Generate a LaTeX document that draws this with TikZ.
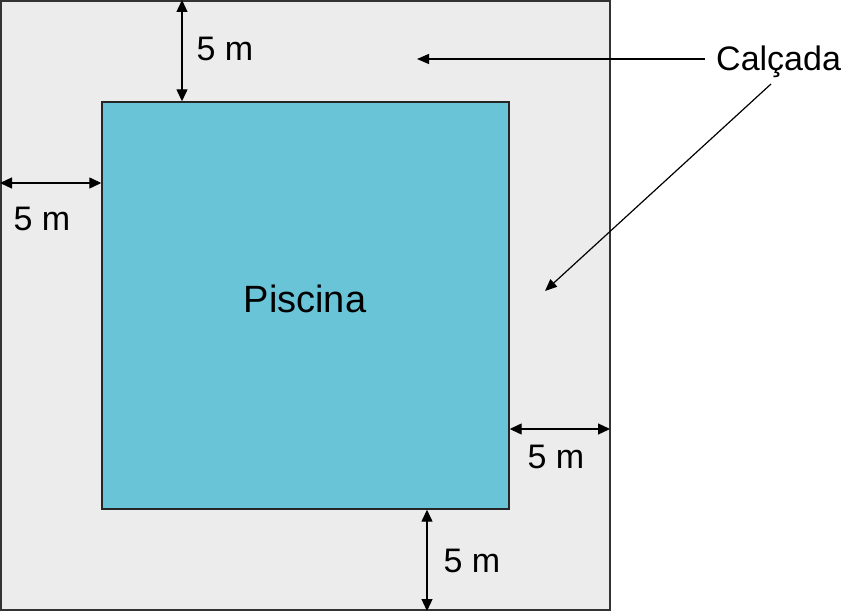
\documentclass[tikz,border=0pt]{standalone}
\usepackage{fontspec}
\setmainfont{Liberation Sans}
\usetikzlibrary{arrows.meta}
\definecolor{deckgray}{HTML}{ECECEC}
\definecolor{poolblue}{HTML}{6AC4D8}
\tikzstyle{deckbox} = [rectangle, draw=black!80, line width=1.4pt, fill=deckgray, minimum size=609pt, inner sep=0pt]
\tikzstyle{poolbox} = [rectangle, draw=black!85, line width=1.4pt, fill=poolblue, minimum size=407pt, inner sep=0pt]
\tikzstyle{lbl} = [font=\fontsize{34}{40}\selectfont, inner sep=0pt]
\tikzstyle{dim} = [line width=1.3pt, {Triangle[length=12pt,width=11pt]}-{Triangle[length=12pt,width=11pt]}]
\tikzstyle{arrow} = [line width=1.2pt, -{Triangle[length=12pt,width=10pt]}]

\begin{document}
\begin{tikzpicture}[x=1pt, y=-1pt]
      \useasboundingbox (0,0) rectangle (846,612);
      \node (deck) [deckbox] at (305.5,305.5) {};
      \node (pool) [poolbox] at (305.5,305.5) {};
      \node (piscina) [lbl, font=\fontsize{38}{44}\selectfont] at (305,299) {Piscina};
      \node (calcada) [lbl, anchor=west] at (716,62) {Calçada};
      \coordinate (top) at (182,0);
      \coordinate (left) at (0,183);
      \coordinate (right) at (610,429);
      \coordinate (bottom) at (427,611);
      \coordinate (tipa) at (417,59);
      \coordinate (tipb) at (545,291);
      \coordinate (starta) at (705,59);
      \coordinate (startb) at (771,84);
      \draw [dim] (top) -- (top |- pool.north);
      \draw [dim] (left) -- (left -| pool.west);
      \draw [dim] (right -| pool.east) -- (right);
      \draw [dim] (bottom |- pool.south) -- (bottom);
      \node (toplbl) [lbl] at (225,49) {5 m};
      \node (leftlbl) [lbl] at (42,219) {5 m};
      \node (rightlbl) [lbl] at (556,457) {5 m};
      \node (bottomlbl) [lbl] at (472,561) {5 m};
      \draw [arrow] (starta) -- (tipa);
      \draw [arrow] (startb) -- (tipb);
\end{tikzpicture}
\end{document}
